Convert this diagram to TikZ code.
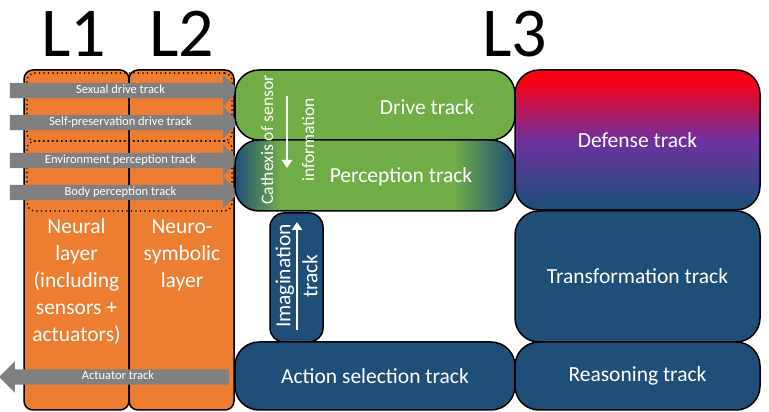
\documentclass[tikz,border=0pt]{standalone}
\usepackage{fontspec}
\setmainfont{Carlito}
\usetikzlibrary{arrows.meta,shapes.arrows}
\definecolor{trkOrange}{RGB}{237,125,49}
\definecolor{trkGreen}{RGB}{112,173,71}
\definecolor{trkBlue}{RGB}{31,78,121}
\definecolor{trkRed}{RGB}{250,0,20}
\definecolor{trkPurple}{RGB}{112,48,160}
\definecolor{trkGray}{RGB}{128,128,128}
\pgfdeclarehorizontalshading{percShade}{100bp}{color(0bp)=(trkBlue); color(25bp)=(trkBlue); color(33bp)=(trkGreen); color(64bp)=(trkGreen); color(75bp)=(trkBlue); color(100bp)=(trkBlue)}
\pgfdeclareverticalshading{defShade}{100bp}{color(0bp)=(trkBlue); color(27bp)=(trkBlue); color(50bp)=(trkPurple); color(71bp)=(trkRed); color(100bp)=(trkRed)}

\begin{document}
\begin{tikzpicture}[x=1pt, y=1pt,
  font=\fontsize{21.5}{27}\selectfont,
  lyrbox/.style={draw=black, line width=1.5pt, fill=trkOrange, rounded corners=9pt, minimum width=105pt, minimum height=340pt, inner sep=0pt},
  track/.style={draw=black, line width=1.5pt, rounded corners=24pt, text=white, inner sep=0pt},
  grp/.style={draw=black, line width=1.8pt, dash pattern=on 0pt off 4.5pt, line cap=round, rounded corners=8pt, minimum width=205pt, inner sep=0pt},
  sig/.style={single arrow, fill=trkGray, text=white, font=\fontsize{12.5}{14}\selectfont, minimum height=229pt, single arrow head extend=8pt, single arrow head indent=0pt, inner xsep=0pt, inner ysep=1.5pt, text height=9pt, text depth=3pt},
  lbl/.style={text=white, align=center, inner sep=0pt},
  big/.style={font=\fontsize{70}{70}\selectfont, anchor=base, inner sep=0pt},
  flow/.style={draw=white, line width=2.6pt, -{Triangle[length=8pt,width=10pt]}}
]
\useasboundingbox (0,0) rectangle (769,412);
\node[big] (l1) at (74,355)  {L1};
\node[big] (l2) at (182,355) {L2};
\node[big] (l3) at (515,355) {L3};

\node[lyrbox] (neural)   at (76.5,172)  {};
\node[lyrbox] (neurosym) at (181.5,172) {};
\node[lbl] (neurallbl)   at (76.5,130) {Neural\\layer\\(including\\sensors +\\actuators)};
\node[lbl] (neurosymlbl) at (182,157)  {Neuro-\\symbolic\\layer};

\node[grp, minimum height=68pt] (drivegrp) at (129.5,305) {};
\node[grp, minimum height=70pt] (percgrp)  at (129.5,236) {};

\node[sig] (sexual)   at (120.5,321.5) {Sexual drive track};
\node[sig] (selfpres) at (120.5,289.5) {Self-preservation drive track};
\node[sig] (envperc)  at (120.5,251.5) {Environment perception track};
\node[sig] (bodyperc) at (120.5,219.5) {Body perception track};
\node[sig, shape border rotate=180, minimum height=230pt] (actuator) at (118,35) {Actuator track};

\node[track, fill=trkGreen, minimum width=280pt, minimum height=70pt] (drive) at (375,307) {};
\node[track, shading=percShade, minimum width=280pt, minimum height=71pt] (perc) at (375,236.5) {};
\node[track, fill=trkBlue, rounded corners=14pt, minimum width=53pt, minimum height=129pt] (imag) at (296.5,134.5) {};
\node[track, fill=trkBlue, minimum width=280pt, minimum height=68pt] (action) at (375,36) {Action selection track};
\node[track, shading=defShade, minimum width=245pt, minimum height=140pt] (defense) at (637.5,272) {Defense track};
\node[track, fill=trkBlue, minimum width=245pt, minimum height=131pt] (transf) at (637.5,135.5) {Transformation track};
\node[track, fill=trkBlue, minimum width=245pt, minimum height=68pt] (reason) at (637.5,36) {Reasoning track};

\node[lbl] (drivelbl) at (427,305) {Drive track};
\node[lbl] (perclbl)  at (401,235) {Perception track};
\node[lbl, rotate=90, font=\fontsize{17.5}{20}\selectfont] (cathlbl) at (287.5,272) {Cathexis of sensor\\[21pt]information};
\node[lbl, rotate=90] (imaglbl) at (296.5,136) {Imagination\\track};

\coordinate (cathtop) at (287,316);
\coordinate (cathbot) at (287,244);
\draw[flow] (cathtop) -- (cathbot);
\coordinate (imagbot) at (297,82);
\coordinate (imagtop) at (297,190);
\draw[flow] (imagbot) -- (imagtop);
\end{tikzpicture}
\end{document}
